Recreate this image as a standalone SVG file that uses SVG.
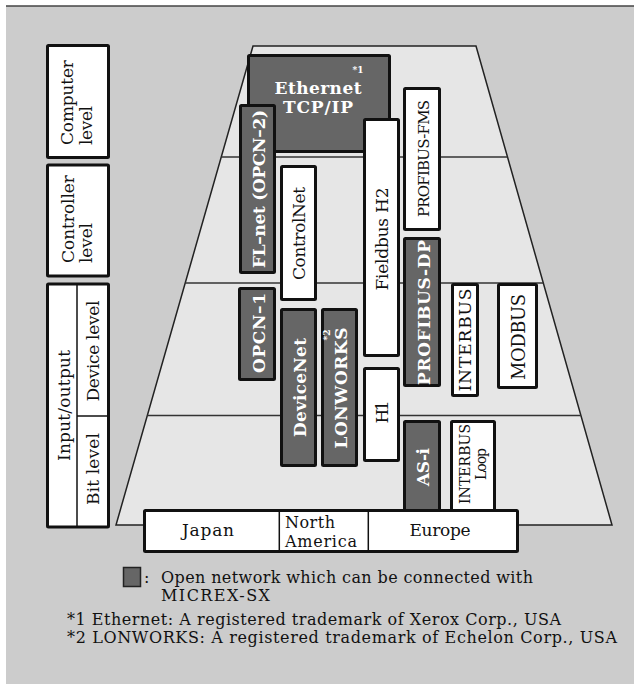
<svg xmlns="http://www.w3.org/2000/svg" width="634" height="684" viewBox="0 0 634 684">
<style>
text{font-family:"DejaVu Serif","Liberation Serif",serif;fill:#111;font-size:17px}
.w{fill:#fff;stroke:#111;stroke-width:3}
.d{fill:#666;stroke:#111;stroke-width:3}
.wt{fill:#fff;font-weight:bold}
.lv{fill:#fff;stroke:#111;stroke-width:3}
.ln{stroke:#333;stroke-width:1.5;fill:none}
.fn{font-size:16px}
.sm{font-size:16px}
</style>
<rect x="0" y="0" width="634" height="684" fill="#fff"/>
<rect x="6" y="6" width="628" height="678" fill="#cccccc"/>
<line x1="6" y1="6" x2="634" y2="6" stroke="#444" stroke-width="1.5"/>

<g id="pyramid">
<polygon points="253,46 476,46 612,525 116,525" fill="#e6e6e6" stroke="#222" stroke-width="1.5"/>
</g>
<g id="connectors">
<line class="ln" x1="221.3" y1="157" x2="507.5" y2="157"/>
<line class="ln" x1="185.2" y1="283" x2="543.3" y2="283"/>
<line class="ln" x1="147.3" y1="415.5" x2="580.9" y2="415.5"/>
</g>

<g id="computer-level">
<rect class="lv" x="47.5" y="45.5" width="61" height="112" rx="1"/>
<text transform="translate(73,145) rotate(-90)" textLength="85">Computer</text>
<text transform="translate(92,145) rotate(-90)" textLength="39">level</text>
</g>
<g id="controller-level">
<rect class="lv" x="47.5" y="165" width="61" height="111" rx="1"/>
<text transform="translate(74,263) rotate(-90)" textLength="88">Controller</text>
<text transform="translate(92,263) rotate(-90)" textLength="40">level</text>
</g>
<g id="io-level">
<rect class="lv" x="47.5" y="284" width="61" height="243" rx="1"/>
<line x1="77" y1="284" x2="77" y2="527" stroke="#111" stroke-width="1.5"/>
<line x1="77" y1="416" x2="108" y2="416" stroke="#111" stroke-width="1.5"/>
<text transform="translate(69.5,405.5) rotate(-90)" text-anchor="middle" textLength="111">Input/output</text>
<text transform="translate(99,351) rotate(-90)" text-anchor="middle" textLength="101">Device level</text>
<text transform="translate(99,469) rotate(-90)" text-anchor="middle" textLength="72">Bit level</text>
</g>

<g id="ethernet">
<rect class="d" x="248.5" y="55.5" width="141" height="96" rx="1"/>
<text class="wt" x="318" y="94" text-anchor="middle" textLength="87">Ethernet</text>
<text class="wt" x="318" y="112.5" text-anchor="middle" textLength="70">TCP/IP</text>
<text class="wt" x="358" y="73" text-anchor="middle" style="font-size:9px">*1</text>
</g>
<g id="fl-net">
<rect class="d" x="240.5" y="105.5" width="34" height="167" rx="1"/>
<text class="wt" transform="translate(264.5,189) rotate(-90)" text-anchor="middle" textLength="158">FL–net (OPCN–2)</text>
</g>
<g id="controlnet">
<rect class="w" x="281.5" y="166.5" width="34" height="133" rx="1"/>
<text transform="translate(304.5,233.5) rotate(-90)" text-anchor="middle" textLength="93">ControlNet</text>
</g>
<g id="fieldbus-h2">
<rect class="w" x="364.5" y="119.5" width="34" height="236" rx="1"/>
<text transform="translate(388,239) rotate(-90)" text-anchor="middle" textLength="103">Fieldbus H2</text>
</g>
<g id="profibus-fms">
<rect class="w" x="404.5" y="88.5" width="35" height="141" rx="1"/>
<text transform="translate(428.5,158.5) rotate(-90)" text-anchor="middle" textLength="117" style="font-size:15px">PROFIBUS-FMS</text>
</g>
<g id="profibus-dp">
<rect class="d" x="404.5" y="238.5" width="35" height="147" rx="1"/>
<text class="wt" transform="translate(429.5,312.5) rotate(-90)" text-anchor="middle" textLength="145">PROFIBUS-DP</text>
</g>
<g id="interbus">
<rect class="w" x="452.5" y="284.5" width="25" height="111" rx="1"/>
<text transform="translate(471,340) rotate(-90)" text-anchor="middle" textLength="103">INTERBUS</text>
</g>
<g id="modbus">
<rect class="w" x="498.5" y="284.5" width="38" height="103" rx="1"/>
<text transform="translate(524.5,337) rotate(-90)" text-anchor="middle" textLength="86" style="font-size:18px">MODBUS</text>
</g>
<g id="opcn-1">
<rect class="d" x="239.5" y="288.5" width="35" height="91" rx="1"/>
<text class="wt" transform="translate(264.5,333) rotate(-90)" text-anchor="middle" textLength="80">OPCN–1</text>
</g>
<g id="devicenet">
<rect class="d" x="281.5" y="309.5" width="34" height="156" rx="1"/>
<text class="wt" transform="translate(305.5,387.5) rotate(-90)" text-anchor="middle" textLength="99">DeviceNet</text>
</g>
<g id="lonworks">
<rect class="d" x="322.5" y="309.5" width="34" height="156" rx="1"/>
<text class="wt" transform="translate(346.5,388) rotate(-90)" text-anchor="middle" textLength="121">LONWORKS</text>
<text class="wt" transform="translate(329.5,335) rotate(-90)" text-anchor="middle" style="font-size:9px">*2</text>
</g>
<g id="h1">
<rect class="w" x="364.5" y="368.5" width="34" height="92" rx="1"/>
<text transform="translate(388,412) rotate(-90)" text-anchor="middle" textLength="23">H1</text>
</g>
<g id="as-i">
<rect class="d" x="404.5" y="421.5" width="35" height="89" rx="1"/>
<text class="wt" transform="translate(429,467) rotate(-90)" text-anchor="middle" textLength="38">AS-i</text>
</g>
<g id="interbus-loop">
<rect class="w" x="451.5" y="421.5" width="43" height="89" rx="1"/>
<text transform="translate(470,464) rotate(-90)" text-anchor="middle" textLength="80" style="font-size:14px">INTERBUS</text>
<text transform="translate(486,464) rotate(-90)" text-anchor="middle" textLength="32" style="font-size:14px">Loop</text>
</g>

<g id="regions">
<rect class="w" x="144.5" y="510.5" width="373" height="41" rx="1"/>
<line x1="279.3" y1="510.5" x2="279.3" y2="551.5" stroke="#111" stroke-width="1.5"/>
<line x1="368.3" y1="510.5" x2="368.3" y2="551.5" stroke="#111" stroke-width="1.5"/>
<text x="208" y="536" text-anchor="middle" textLength="52">Japan</text>
<text class="sm" x="285" y="528" textLength="50">North</text>
<text class="sm" x="285" y="547" textLength="72">America</text>
<text x="440" y="536" text-anchor="middle" textLength="61">Europe</text>
</g>

<g id="legend">
<rect x="123.5" y="567.5" width="17" height="19" fill="#666" stroke="#222" stroke-width="1.5"/>
<text class="sm" x="144" y="583">:</text>
<text class="sm" x="161" y="583" textLength="372">Open network which can be connected with</text>
<text class="sm" x="161" y="601" textLength="109">MICREX-SX</text>
<text class="fn" x="67" y="625" textLength="494">*1 Ethernet: A registered trademark of Xerox Corp., USA</text>
<text class="fn" x="67" y="643" textLength="550">*2 LONWORKS: A registered trademark of Echelon Corp., USA</text>
</g>
</svg>
